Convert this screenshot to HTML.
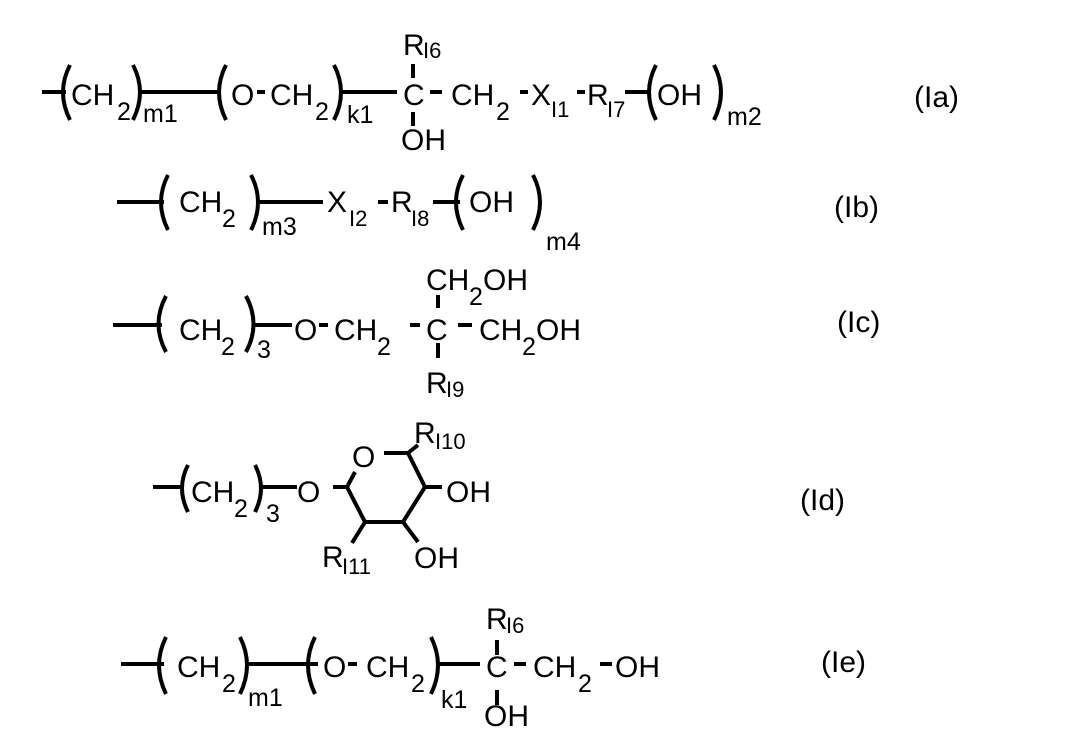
<!DOCTYPE html>
<html><head><meta charset="utf-8"><style>
html,body{margin:0;padding:0;background:#fff;}
svg{display:block;}
text{font-family:"Liberation Sans",Arial,sans-serif;fill:#000;font-size:30px;}
.s{font-size:25px;}
.r{font-size:22px;}
</style></head><body>
<svg width="1085" height="738" viewBox="0 0 1085 738" xmlns="http://www.w3.org/2000/svg">
<g stroke="#000" stroke-width="4" fill="none">
<!-- Ia -->
<line x1="42" y1="92" x2="66" y2="92"/>
<path d="M70 65 Q56 92 70 120"/>
<path d="M133 65 Q147 92 133 120"/>
<line x1="140" y1="92" x2="217" y2="92"/>
<path d="M226 65 Q212 92 226 120"/>
<path d="M334 65 Q348 92 334 120"/>
<line x1="342" y1="92" x2="397" y2="92"/>
<line x1="413" y1="64" x2="413" y2="78"/>
<line x1="413" y1="112" x2="413" y2="126"/>
<line x1="430" y1="92" x2="442" y2="92"/>
<line x1="520" y1="92" x2="528" y2="92"/>
<line x1="577" y1="92" x2="585" y2="92"/>
<line x1="625" y1="92" x2="650" y2="92"/>
<path d="M656 65 Q642 92 656 120"/>
<path d="M714 65 Q728 92 714 120"/>
<!-- Ib -->
<line x1="117" y1="202" x2="164" y2="202"/>
<path d="M168 175 Q154 202 168 230"/>
<path d="M251 175 Q265 202 251 230"/>
<line x1="258" y1="202" x2="323" y2="202"/>
<line x1="378" y1="202" x2="388" y2="202"/>
<line x1="433" y1="202" x2="460" y2="202"/>
<path d="M463 175 Q449 202 463 230"/>
<path d="M533 175 Q547 202 533 230"/>
<!-- Ic -->
<line x1="113" y1="325" x2="162" y2="325"/>
<path d="M166 296 Q151 324 166 352"/>
<path d="M246 296 Q261 324 246 352"/>
<line x1="252" y1="325" x2="292" y2="325"/>
<line x1="319" y1="325" x2="328" y2="325"/>
<line x1="410" y1="325" x2="420" y2="325"/>
<line x1="458" y1="325" x2="472" y2="325"/>
<line x1="438" y1="295" x2="438" y2="308"/>
<line x1="438" y1="343" x2="438" y2="358"/>
<!-- Id -->
<line x1="153" y1="487" x2="184" y2="487"/>
<path d="M188 465 Q176 488 188 512"/>
<path d="M255 465 Q267 488 255 512"/>
<line x1="260" y1="487" x2="297" y2="487"/>
<line x1="333" y1="487" x2="347" y2="487"/>
<polyline points="355,472 347,487 365,522 403,522 425,487 408,453 384,453"/>
<line x1="408" y1="453" x2="418" y2="445"/>
<line x1="425" y1="487" x2="442" y2="487"/>
<line x1="403" y1="522" x2="418" y2="542"/>
<line x1="365" y1="522" x2="352" y2="543"/>
<!-- Ie -->
<line x1="121" y1="664" x2="164" y2="664"/>
<path d="M166 637 Q152 665 166 694"/>
<path d="M240 637 Q254 665 240 694"/>
<line x1="247" y1="664" x2="318" y2="664"/>
<path d="M315 637 Q301 665 315 694"/>
<path d="M431 637 Q445 665 431 694"/>
<line x1="438" y1="664" x2="480" y2="664"/>
<line x1="497" y1="640" x2="497" y2="655"/>
<line x1="497" y1="690" x2="497" y2="705"/>
<line x1="514" y1="664" x2="526" y2="664"/>
<line x1="600" y1="664" x2="612" y2="664"/>
<line x1="348" y1="664" x2="357" y2="664"/>
</g>
<g>
<!-- Ia -->
<text x="71" y="105">CH</text><text class="s" x="117" y="120">2</text>
<text class="s" x="143" y="122">m1</text>
<text x="231" y="105">O</text>
<line x1="257" y1="92" x2="265" y2="92" stroke="#000" stroke-width="4"/>
<text x="270" y="105">CH</text><text class="s" x="315" y="120">2</text>
<text class="s" x="347" y="123">k1</text>
<text x="403" y="105">C</text>
<text x="403" y="55">R</text><text class="r" x="423" y="58">I6</text>
<text x="401" y="150">OH</text>
<text x="451" y="105">CH</text><text class="s" x="496" y="120">2</text>
<text x="531" y="105">X</text><text class="r" x="551" y="117">I1</text>
<text x="587" y="105">R</text><text class="r" x="607" y="117">I7</text>
<text x="657" y="105">OH</text>
<text class="s" x="727" y="125">m2</text>
<text x="914" y="107">(Ia)</text>
<!-- Ib -->
<text x="179" y="212">CH</text><text class="s" x="222" y="227">2</text>
<text class="s" x="262" y="235">m3</text>
<text x="327" y="212">X</text><text class="r" x="349" y="226">I2</text>
<text x="391" y="212">R</text><text class="r" x="411" y="226">I8</text>
<text x="469" y="212">OH</text>
<text class="s" x="546" y="250">m4</text>
<text x="834" y="217">(Ib)</text>
<!-- Ic -->
<text x="179" y="340">CH</text><text class="s" x="221" y="355">2</text>
<text class="s" x="257" y="358">3</text>
<text x="294" y="340">O</text>
<text x="334" y="340">CH</text><text class="s" x="377" y="355">2</text>
<text x="426" y="340">C</text>
<text x="479" y="340">CH</text><text class="s" x="522" y="355">2</text><text x="536" y="340">OH</text>
<text x="426" y="290">CH</text><text class="s" x="469" y="305">2</text><text x="483" y="290">OH</text>
<text x="426" y="393">R</text><text class="r" x="446" y="397">I9</text>
<text x="837" y="332">(Ic)</text>
<!-- Id -->
<text x="191" y="502">CH</text><text class="s" x="234" y="517">2</text>
<text class="s" x="266" y="522">3</text>
<text x="297" y="502">O</text>
<text x="352" y="467">O</text>
<text x="414" y="443">R</text><text class="r" x="435" y="449">I10</text>
<text x="446" y="502">OH</text>
<text x="322" y="567">R</text><text class="r" x="342" y="574">I11</text>
<text x="414" y="568">OH</text>
<text x="800" y="510">(Id)</text>
<!-- Ie -->
<text x="177" y="677">CH</text><text class="s" x="222" y="692">2</text>
<text class="s" x="248" y="706">m1</text>
<text x="323" y="677">O</text>
<text x="366" y="677">CH</text><text class="s" x="411" y="692">2</text>
<text class="s" x="441" y="708">k1</text>
<text x="486" y="677">C</text>
<text x="486" y="629">R</text><text class="r" x="506" y="633">I6</text>
<text x="484" y="726">OH</text>
<text x="533" y="677">CH</text><text class="s" x="578" y="692">2</text>
<text x="615" y="677">OH</text>
<text x="821" y="672">(Ie)</text>
</g>
</svg>
</body></html>
